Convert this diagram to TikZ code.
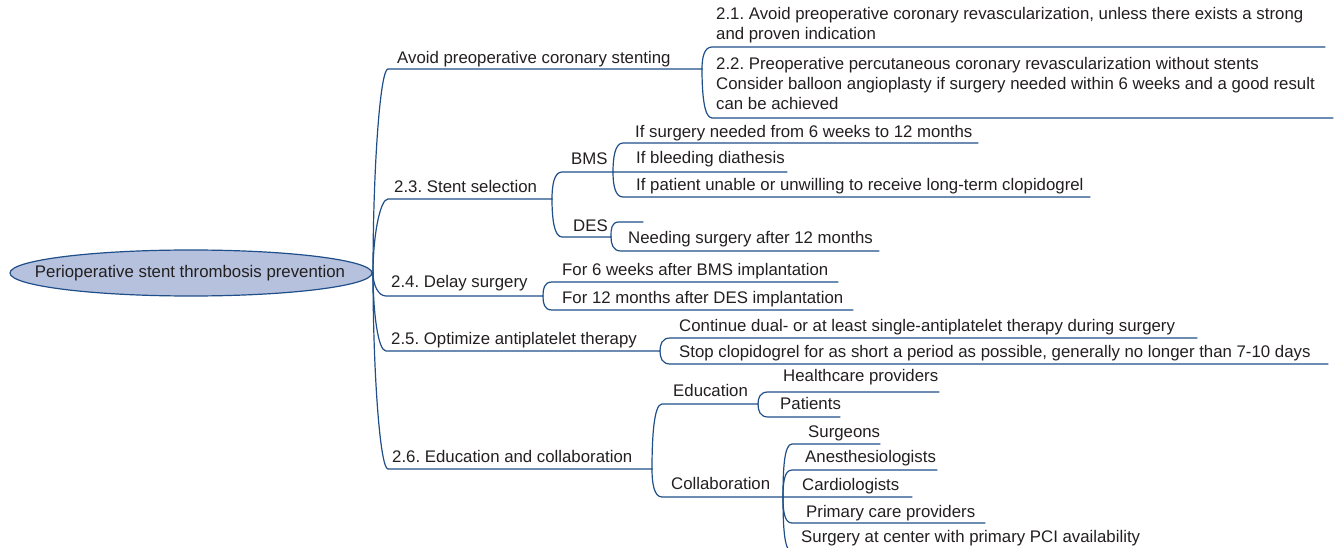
\documentclass[tikz,border=0pt]{standalone}
\usepackage{fontspec}
\setmainfont{Liberation Sans}
\usetikzlibrary{calc}
\definecolor{inkline}{HTML}{1F4E89}
\definecolor{inktext}{HTML}{231F20}
\definecolor{rootfill}{HTML}{B5C1DD}
\tikzset{
  br/.style={draw=inkline, line width=1.2pt, line cap=round},
  txt/.style={inner sep=0pt, anchor=base west, text=inktext,
    font=\fontsize{16.8}{20}\selectfont, align=left},
  rootshape/.style={draw=inkline, fill=rootfill, line width=1.2pt},
  roottext/.style={inner sep=0pt, text=inktext, font=\fontsize{16.8}{20}\selectfont},
}
% brace-like branch: from parent tip, curving into the start of an underline
\newcommand\twig[3]{\draw[br] (#1) .. controls ($(#1)!0.5!(#1 |- #2)$) and ($(#2)+(-8,0)$) .. (#2) -- (#3);}
% same, with the underline running on straight into a child that sits level with the tip
\newcommand\twigon[4]{\draw[br] (#1) .. controls ($(#1)!0.5!(#1 |- #2)$) and ($(#2)+(-8,0)$) .. (#2) -- (#3) -- (#4);}
\frenchspacing
\begin{document}
\begin{tikzpicture}[x=1pt,y=-1pt]
\useasboundingbox (0,0) rectangle (1338,548);
\clip (0,0) rectangle (1338,548);

% root
\draw[rootshape] (191,273) ellipse [x radius=181, y radius=23];
\node[roottext] (root) at (190,273) {Perioperative stent thrombosis prevention};
\coordinate (R) at (373,273);

% first level
\coordinate (aS) at (388,69);  \coordinate (aE) at (702,69);
\coordinate (bS) at (388,199); \coordinate (bE) at (552,199);
\coordinate (cS) at (386,296); \coordinate (cE) at (543,296);
\coordinate (dS) at (386,351); \coordinate (dE) at (660,351);
\coordinate (eS) at (388,469); \coordinate (eE) at (652,469);
\node[txt] (a) at (397,63.5) {Avoid preoperative coronary stenting};
\node[txt] (b) at (394,192.5) {2.3. Stent selection};
\node[txt] (c) at (391,287.5) {2.4. Delay surgery};
\node[txt] (d) at (391,344.5) {2.5. Optimize antiplatelet therapy};
\node[txt] (e) at (392,462.5) {2.6. Education and collaboration};
\twig{R}{aS}{aE}
\twig{R}{bS}{bE}
\twig{R}{cS}{cE}
\twig{R}{dS}{dE}
\twig{R}{eS}{eE}

% avoid stenting (multi-line nodes sit on the baseline of their last line)
\coordinate (a1S) at (712,47);  \coordinate (a1E) at (1325,47);
\coordinate (a2S) at (712,118); \coordinate (a2E) at (1333,118);
\node[txt] (a1) at (716,39.5) {2.1. Avoid preoperative coronary revascularization, unless there exists a strong\\and proven indication};
\node[txt] (a2) at (716,109.5) {2.2. Preoperative percutaneous coronary revascularization without stents\\Consider balloon angioplasty if surgery needed within 6 weeks and a good result\\can be achieved};
\twig{aE}{a1S}{a1E}
\twig{aE}{a2S}{a2E}

% stent selection
\coordinate (bmsS) at (562,172); \coordinate (bmsE) at (613,172);
\coordinate (desS) at (562,237); \coordinate (desE) at (611,237);
\coordinate (b2E) at (787,172);
\node[txt] (bms) at (571,164.5) {BMS};
\node[txt] (des) at (573,231) {DES};
\twigon{bE}{bmsS}{bmsE}{b2E}
\twig{bE}{desS}{desE}

\coordinate (b1S) at (623,143); \coordinate (b1E) at (978,143);
\coordinate (b3S) at (623,197); \coordinate (b3E) at (1090,197);
\node[txt] (b1) at (635,137.5) {If surgery needed from 6 weeks to 12 months};
\node[txt] (b2) at (636,163.5) {If bleeding diathesis};
\node[txt] (b3) at (636,190.5) {If patient unable or unwilling to receive long-term clopidogrel};
\twig{bmsE}{b1S}{b1E}
\twig{bmsE}{b3S}{b3E}

\coordinate (d0S) at (619,222); \coordinate (d0E) at (643,222);
\coordinate (d1S) at (621,251); \coordinate (d1E) at (879,251);
\node[txt] (d1) at (628,243.5) {Needing surgery after 12 months};
\twig{desE}{d0S}{d0E}
\twig{desE}{d1S}{d1E}

% delay surgery
\coordinate (c1S) at (552,282); \coordinate (c1E) at (838,282);
\coordinate (c2S) at (552,310); \coordinate (c2E) at (853,310);
\node[txt] (c1) at (562,275.5) {For 6 weeks after BMS implantation};
\node[txt] (c2) at (562,303.5) {For 12 months after DES implantation};
\twig{cE}{c1S}{c1E}
\twig{cE}{c2S}{c2E}

% antiplatelet therapy
\coordinate (e1S) at (670,338); \coordinate (e1E) at (1197,338);
\coordinate (e2S) at (670,364); \coordinate (e2E) at (1328,364);
\node[txt] (e1) at (679,331) {Continue dual- or at least single-antiplatelet therapy during surgery};
\node[txt] (e2) at (679,357.5) {Stop clopidogrel for as short a period as possible, generally no longer than 7-10 days};
\twig{dE}{e1S}{e1E}
\twig{dE}{e2S}{e2E}

% education and collaboration
\coordinate (eduS) at (662,404); \coordinate (eduE) at (758,404);
\coordinate (colS) at (662,497); \coordinate (colE) at (783,497);
\coordinate (k3E) at (912,497);
\node[txt] (edu) at (673,396.5) {Education};
\node[txt] (col) at (671,489.5) {Collaboration};
\twig{eE}{eduS}{eduE}
\twigon{eE}{colS}{colE}{k3E}

\coordinate (h1S) at (768,392); \coordinate (h1E) at (939,392);
\coordinate (h2S) at (768,417); \coordinate (h2E) at (840,417);
\node[txt] (h1) at (783,381.5) {Healthcare providers};
\node[txt] (h2) at (780,409.5) {Patients};
\twig{eduE}{h1S}{h1E}
\twig{eduE}{h2S}{h2E}

\coordinate (k1S) at (792,444); \coordinate (k1E) at (880,444);
\coordinate (k2S) at (792,470); \coordinate (k2E) at (937,470);
\coordinate (k4S) at (792,523); \coordinate (k4E) at (985,523);
\coordinate (k5S) at (792,552); \coordinate (k5E) at (1150,552);
\node[txt] (k1) at (808,437.5) {Surgeons};
\node[txt] (k2) at (805,462.5) {Anesthesiologists};
\node[txt] (k3) at (802,490.5) {Cardiologists};
\node[txt] (k4) at (806,517.5) {Primary care providers};
\node[txt] (k5) at (801,542.5) {Surgery at center with primary PCI availability};
\twig{colE}{k1S}{k1E}
\twig{colE}{k2S}{k2E}
\twig{colE}{k4S}{k4E}
\twig{colE}{k5S}{k5E}
\end{tikzpicture}
\end{document}
